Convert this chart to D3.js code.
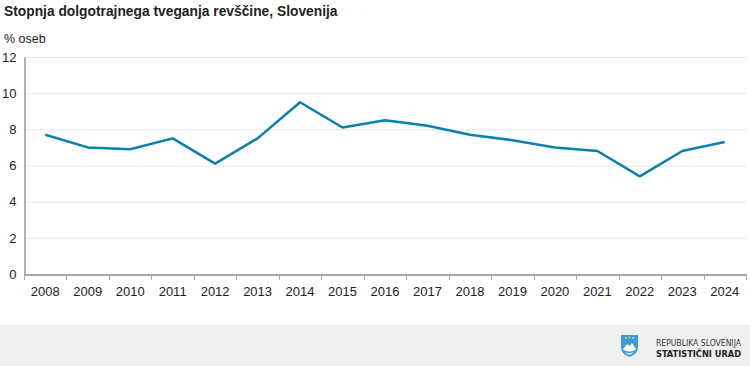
<!DOCTYPE html>
<html><head><meta charset="utf-8">
<script src="https://cdn.jsdelivr.net/npm/d3@7"></script>
<style>body{margin:0;background:#fff;}svg{display:block;font-family:Arial,"Liberation Sans",sans-serif;}</style>
</head><body>
<svg id="c" width="750" height="366"></svg>
<script>
const years = ["2008","2009","2010","2011","2012","2013","2014","2015","2016","2017","2018","2019","2020","2021","2022","2023","2024"];
const values = [7.7,7.0,6.9,7.5,6.1,7.5,9.5,8.1,8.5,8.2,7.7,7.4,7.0,6.8,5.4,6.8,7.3];
const yTicks = [0,2,4,6,8,10,12];

const svg = d3.select("#c");
const x = d3.scaleBand().domain(years).range([24,746]);
const y = d3.scaleLinear().domain([0,12]).range([274,57]);

svg.append("text").attr("x",4).attr("y",16).attr("font-size",13.8).attr("font-weight","bold").attr("fill","#222").text("Stopnja dolgotrajnega tveganja revščine, Slovenija");
svg.append("text").attr("x",4).attr("y",43).attr("font-size",12.5).attr("fill","#222").text("% oseb");

// grid
svg.append("g").selectAll("line").data(yTicks.filter(d=>d>0)).join("line")
  .attr("x1",24).attr("x2",746).attr("y1",d=>y(d)+0.5).attr("y2",d=>y(d)+0.5)
  .attr("stroke","#e6e6e6").attr("stroke-width",1);

// y axis
const ya = svg.append("g").attr("transform","translate(24.5,0)").call(d3.axisLeft(y).tickValues(yTicks).tickSize(0).tickPadding(8));
ya.select(".domain").attr("stroke","#999").attr("stroke-width",1.5);
ya.selectAll("text").attr("font-size",13).attr("fill","#222").attr("font-family","Arial,'Liberation Sans',sans-serif");

// x axis
const xa = svg.append("g").attr("transform","translate(0,274.5)").call(d3.axisBottom(x).tickSize(0).tickPadding(12));
xa.select(".domain").attr("stroke","#888").attr("stroke-width",1.5);
xa.selectAll("text").attr("font-size",13).attr("fill","#222").attr("font-family","Arial,'Liberation Sans',sans-serif");
svg.append("g").selectAll("line").data(years).join("line")
  .attr("x1",(d,i)=> Math.round(x.range()[0] + (i+1)*x.bandwidth())+0.5)
  .attr("x2",(d,i)=> Math.round(x.range()[0] + (i+1)*x.bandwidth())+0.5)
  .attr("y1",274).attr("y2",280).attr("stroke","#aaa").attr("stroke-width",1);
svg.append("line").attr("x1",24.5).attr("x2",24.5).attr("y1",274).attr("y2",280).attr("stroke","#aaa");

// line
const line = d3.line().x((d,i)=>x(years[i])+x.bandwidth()/2).y(d=>y(d));
svg.append("path").datum(values).attr("d",line).attr("fill","none").attr("stroke","#0a80b0").attr("stroke-width",2.5).attr("stroke-linejoin","round");

// footer
svg.append("rect").attr("x",0).attr("y",325).attr("width",750).attr("height",41).attr("fill","#efefef");
const logo = svg.append("g").attr("transform","translate(621,335)");
logo.append("path").attr("d","M0,0 L17,0 L17,12 Q17,19 8.5,22 Q0,19 0,12 Z").attr("fill","#3d9ad8");
logo.append("path").attr("d","M2,14 L6,9 L8.5,11 L11,8 L15,14 Q13,18 8.5,20 Q4,18 2,14 Z").attr("fill","#fff");
logo.append("path").attr("d","M3,15 Q8.5,18 14,15 L14,16.5 Q8.5,19.5 3,16.5 Z").attr("fill","#3d9ad8");
logo.selectAll("circle").data([[5,3],[8.5,2.5],[12,3]]).join("circle").attr("cx",d=>d[0]).attr("cy",d=>d[1]).attr("r",0.9).attr("fill","#ffd23c");
svg.append("text").attr("x",656).attr("y",346).attr("font-size",8.5).attr("fill","#333")
  .attr("textLength",85).attr("lengthAdjust","spacingAndGlyphs")
  .attr("font-family","'DejaVu Sans Condensed','Liberation Sans Narrow',Arial,sans-serif").text("REPUBLIKA SLOVENIJA");
svg.append("text").attr("x",656).attr("y",357).attr("font-size",9).attr("font-weight","bold").attr("fill","#222")
  .attr("textLength",85).attr("lengthAdjust","spacingAndGlyphs")
  .attr("font-family","'DejaVu Sans Condensed','Liberation Sans Narrow',Arial,sans-serif").text("STATISTIČNI URAD");
</script>
</body></html>
